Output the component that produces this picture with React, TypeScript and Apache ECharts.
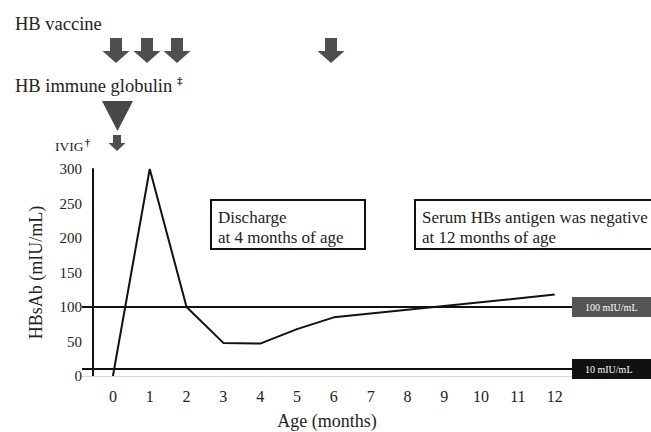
import React, { useEffect, useRef } from "react";
import * as echarts from "echarts";

const months = [0, 1, 2, 3, 4, 5, 6, 12];
const hbsAb = [0, 300, 100, 48, 47, 68, 85, 118];
const xTickValues = [0, 1, 2, 3, 4, 5, 6, 7, 8, 9, 10, 11, 12];
const thresholdValues = [100, 10];
const thresholdLabels = ["100 mIU/mL", "10 mIU/mL"];
const thresholdColors = ["#555555", "#111111"];

const FONT = "Liberation Serif";
const ARROW = "#4f4f4f";

function downArrow(cx: number, top: number, shaftW: number, headW: number, shaftH: number, headH: number) {
  return [
    [cx - shaftW / 2, top],
    [cx + shaftW / 2, top],
    [cx + shaftW / 2, top + shaftH],
    [cx + headW / 2, top + shaftH],
    [cx, top + shaftH + headH],
    [cx - headW / 2, top + shaftH],
    [cx - shaftW / 2, top + shaftH],
  ];
}

function txt(text: string, left: number, top: number, size: number, extra: any = {}) {
  return {
    type: "text",
    left,
    top,
    style: { text, fontFamily: FONT, fontSize: size, fill: "#222", ...extra },
  };
}

export default function App() {
  const ref = useRef<HTMLDivElement>(null);
  useEffect(() => {
    if (!ref.current) return;
    const chart = echarts.init(ref.current, undefined, { renderer: "svg" });
    const arrowXs = [116, 147, 177, 331];
    const graphic: any[] = [
      txt("HB vaccine", 15, 14, 18.5),
      ...arrowXs.map((cx) => ({
        type: "polygon",
        shape: { points: downArrow(cx, 38, 12, 27, 13, 12) },
        style: { fill: ARROW },
      })),
      txt("HB immune globulin", 15, 76, 18.5),
      txt("‡", 177, 74, 11, { fontWeight: "bold" }),
      {
        type: "polygon",
        shape: { points: [[102, 101], [133, 101], [117.5, 131]] },
        style: { fill: "#484848" },
      },
      txt("IVIG", 55, 139, 13.5),
      txt("†", 85, 137, 10, { fontWeight: "bold" }),
      {
        type: "polygon",
        shape: { points: downArrow(117, 135, 8, 17, 8, 8) },
        style: { fill: ARROW },
      },
      {
        type: "rect",
        shape: { x: 211, y: 200, width: 154, height: 49 },
        style: { fill: "#fff", stroke: "#111", lineWidth: 2 },
      },
      txt("Discharge\nat 4 months of age", 218, 207, 17, { lineHeight: 20 }),
      {
        type: "rect",
        shape: { x: 415, y: 200, width: 260, height: 49 },
        style: { fill: "#fff", stroke: "#111", lineWidth: 2 },
      },
      txt("Serum HBs antigen was negative\nat 12 months of age", 422, 207, 17, { lineHeight: 20 }),
    ];

    chart.setOption({
      animation: false,
      backgroundColor: "#fff",
      grid: { left: 82, right: 79, top: 169, bottom: 56 },
      xAxis: {
        type: "value",
        min: -0.84,
        max: 12.47,
        name: "Age (months)",
        nameLocation: "middle",
        nameGap: 36,
        nameTextStyle: { fontFamily: FONT, fontSize: 18, color: "#222" },
        axisLine: { show: true, onZero: false, lineStyle: { color: "#d8d8d8", width: 1 } },
        axisTick: { show: false },
        splitLine: { show: false },
        axisLabel: {
          customValues: xTickValues,
          fontFamily: FONT,
          fontSize: 16,
          color: "#222",
          margin: 12,
        },
      },
      yAxis: {
        type: "value",
        min: 0,
        max: 300,
        interval: 50,
        offset: -11,
        name: "HBsAb (mIU/mL)",
        nameLocation: "middle",
        nameGap: 48,
        nameTextStyle: { fontFamily: FONT, fontSize: 18, color: "#222" },
        axisLine: { show: true, onZero: false, lineStyle: { color: "#111", width: 2 } },
        axisTick: { show: false },
        splitLine: { show: false },
        axisLabel: { fontFamily: FONT, fontSize: 15, color: "#222", margin: 11 },
      },
      series: [
        {
          type: "line",
          data: months.map((m, i) => [m, hbsAb[i]]),
          showSymbol: false,
          symbol: "none",
          lineStyle: { color: "#111", width: 2 },
          markLine: {
            silent: true,
            symbol: "none",
            lineStyle: { color: "#111", width: 2, type: "solid" },
            data: thresholdValues.map((v, i) => ({
              yAxis: v,
              label: {
                show: true,
                position: "end",
                distance: 0,
                formatter: thresholdLabels[i],
                backgroundColor: thresholdColors[i],
                color: "#fff",
                fontFamily: FONT,
                fontSize: 10,
                width: 53,
                align: "left",
                padding: [5, 13],
              },
            })),
          },
        },
      ],
      graphic,
    });
    return () => chart.dispose();
  }, []);
  return <div ref={ref} style={{ width: 651, height: 432, position: "absolute", left: 0, top: 0 }} />;
}
